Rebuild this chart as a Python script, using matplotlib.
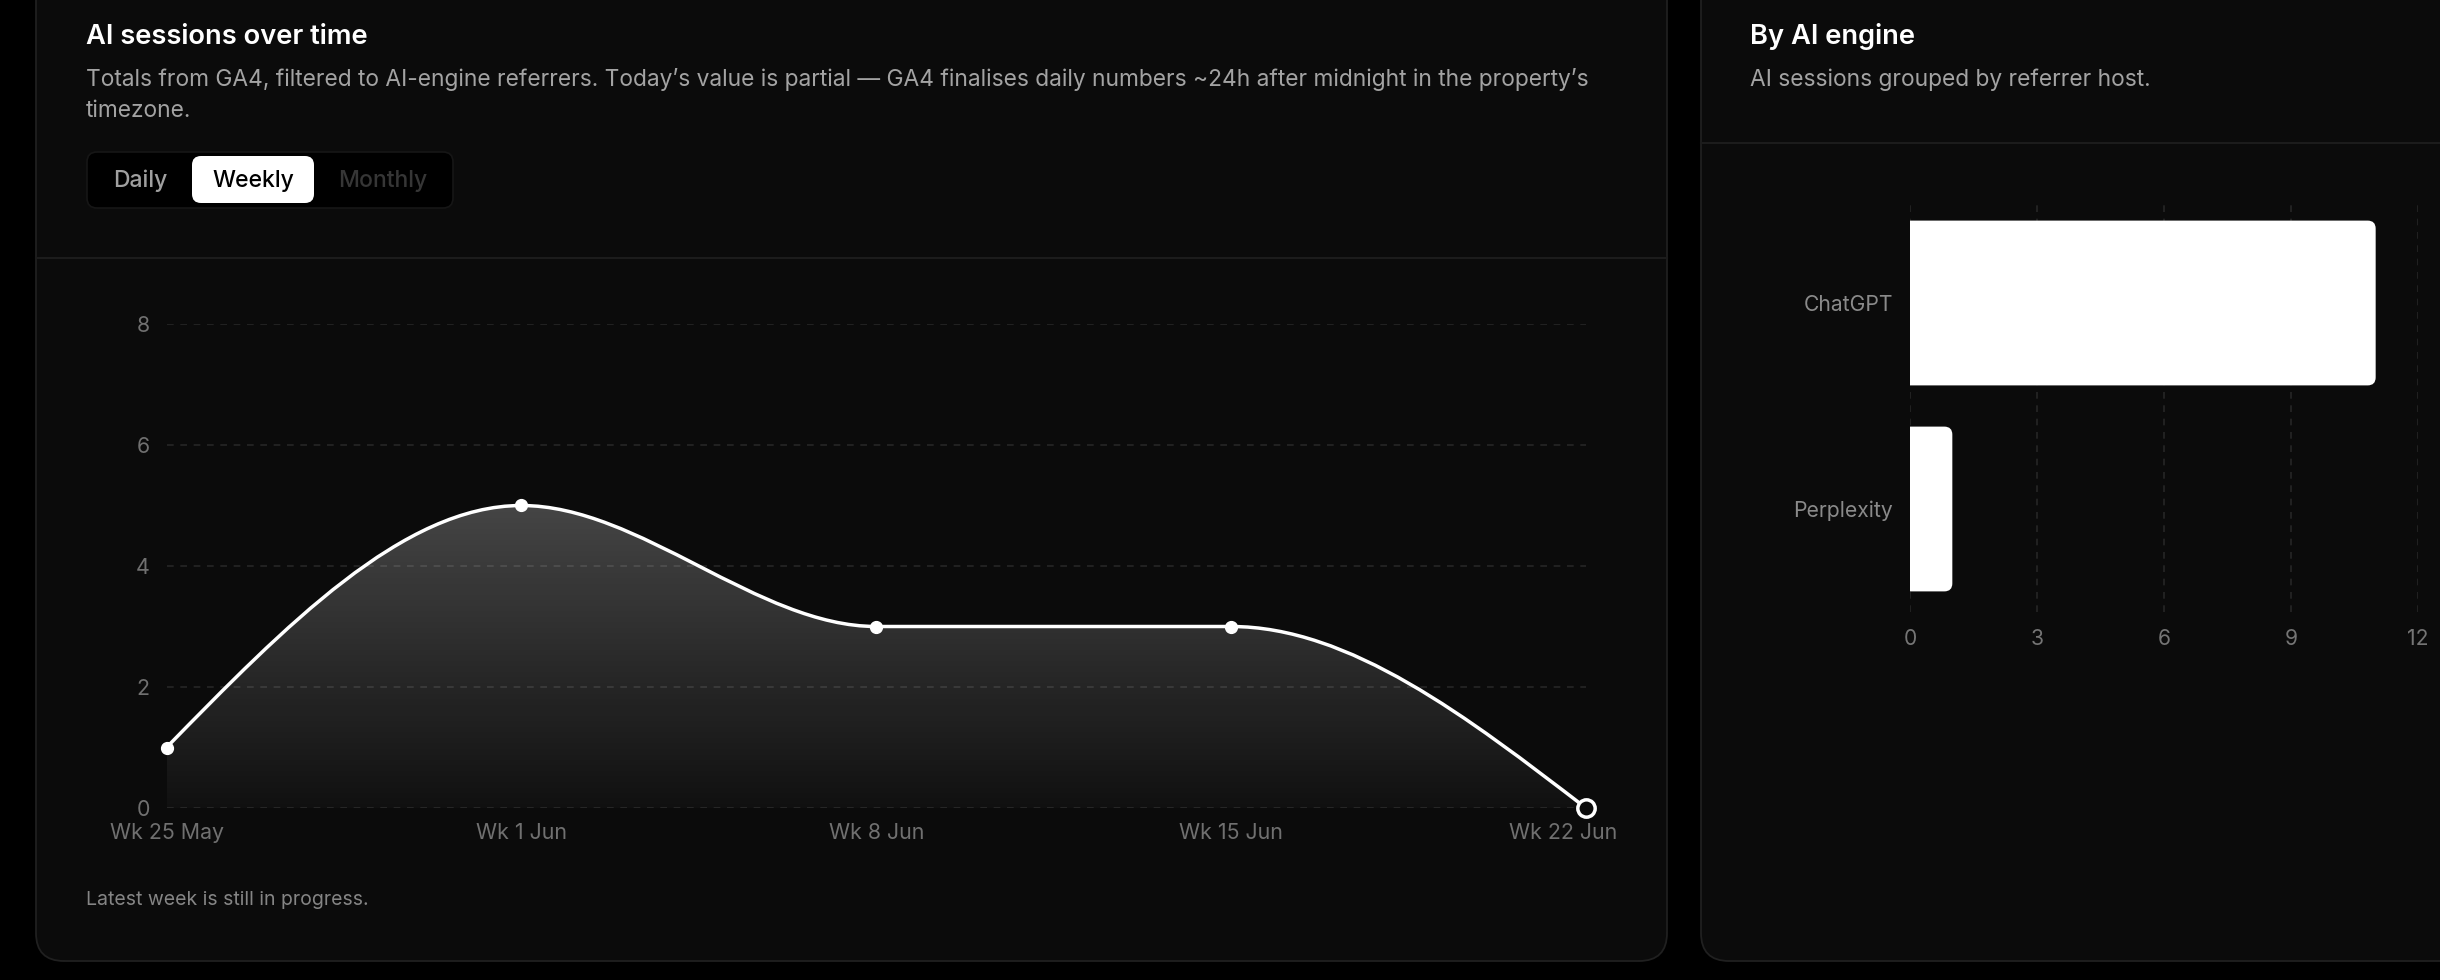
import numpy as np
import matplotlib
matplotlib.use("Agg")
import matplotlib.pyplot as plt
import matplotlib.transforms as mtransforms
from matplotlib.patches import FancyBboxPatch, PathPatch
from matplotlib.path import Path

plt.rcParams['font.family'] = ['Inter', 'DejaVu Sans']

# data
weeks = ["Wk 25 May", "Wk 1 Jun", "Wk 8 Jun", "Wk 15 Jun", "Wk 22 Jun"]
sessions = [1, 5, 3, 3, 0]
y_ticks = [0, 2, 4, 6, 8]

engines = ["ChatGPT", "Perplexity"]
engine_sessions = [11, 1]
engine_ticks = [0, 3, 6, 9, 12]

W, H = 2440, 980
BG = '#000000'
CARD = '#0b0b0b'
EDGE = '#202020'


def fx(px):
    return px / W


def fy(py):
    return 1 - py / H


def monotone_path(xs, ys):
    # d3 curveMonotoneX style bezier through the points
    xs = np.asarray(xs, float)
    ys = np.asarray(ys, float)
    n = len(xs)
    h = np.diff(xs)
    s = np.diff(ys) / h
    t = np.zeros(n)
    for i in range(1, n - 1):
        p = (s[i - 1] * h[i] + s[i] * h[i - 1]) / (h[i - 1] + h[i])
        t[i] = (np.sign(s[i - 1]) + np.sign(s[i])) * min(abs(s[i - 1]), abs(s[i]), 0.5 * abs(p))
    t[0] = (3 * s[0] - t[1]) / 2
    t[-1] = (3 * s[-1] - t[-2]) / 2
    verts = [(xs[0], ys[0])]
    codes = [Path.MOVETO]
    for i in range(n - 1):
        dx = h[i] / 3
        verts += [(xs[i] + dx, ys[i] + dx * t[i]),
                  (xs[i + 1] - dx, ys[i + 1] - dx * t[i + 1]),
                  (xs[i + 1], ys[i + 1])]
        codes += [Path.CURVE4] * 3
    return verts, codes


fig = plt.figure(figsize=(W / 100, H / 100), dpi=100, facecolor=BG)

# page background, cards and header text in pixel coordinates
bg = fig.add_axes([0, 0, 1, 1])
bg.set_xlim(0, W)
bg.set_ylim(H, 0)
bg.axis('off')
bg.set_facecolor(BG)

bg.add_patch(FancyBboxPatch((36, -80), 1631, 1041, boxstyle="round,pad=0,rounding_size=28",
                            fc=CARD, ec=EDGE, lw=1.3))
bg.add_patch(FancyBboxPatch((1701, -80), 900, 1041, boxstyle="round,pad=0,rounding_size=28",
                            fc=CARD, ec=EDGE, lw=1.3))
bg.plot([36, 1667], [258, 258], color='#1c1c1c', lw=1.5)
bg.plot([1701, 2440], [143, 143], color='#1c1c1c', lw=1.5)

bg.text(86, 44, "AI sessions over time", color='white', fontsize=19.7, fontweight='semibold', va='baseline')
bg.text(86, 86, "Totals from GA4, filtered to AI-engine referrers. Today\u2019s value is partial \u2014 "
        "GA4 finalises daily numbers ~24h after midnight in the property\u2019s",
        color='#a3a3a3', fontsize=16.4, va='baseline')
bg.text(86, 117, "timezone.", color='#a3a3a3', fontsize=16.4, va='baseline')

# period switch
bg.add_patch(FancyBboxPatch((87, 152), 366, 56, boxstyle="round,pad=0,rounding_size=10",
                            fc='#000000', ec='#161616', lw=1.2))
bg.add_patch(FancyBboxPatch((192, 156), 122, 47, boxstyle="round,pad=0,rounding_size=9",
                            fc='white', ec='none'))
bg.text(140, 181, "Daily", color='#a0a0a0', fontsize=16.5, fontweight='medium', ha='center', va='center')
bg.text(253, 181, "Weekly", color='#000000', fontsize=16.5, fontweight='medium', ha='center', va='center')
bg.text(383, 181, "Monthly", color='#363636', fontsize=16.5, fontweight='medium', ha='center', va='center')

bg.text(86, 905, "Latest week is still in progress.", color='#858585', fontsize=14, va='baseline')

bg.text(1750, 44, "By AI engine", color='white', fontsize=19.7, fontweight='semibold', va='baseline')
bg.text(1750, 86, "AI sessions grouped by referrer host.", color='#a3a3a3', fontsize=16.4, va='baseline')

# line chart
ax = fig.add_axes([fx(166.5), fy(808), fx(1586) - fx(166.5), fy(324) - fy(808)])
ax.patch.set_alpha(0)
x = np.arange(len(weeks))
verts, codes = monotone_path(x, sessions)
line_path = Path(verts, codes)

fill_verts = verts + [(x[-1], 0), (x[0], 0), (x[0], sessions[0])]
fill_codes = codes + [Path.LINETO, Path.LINETO, Path.CLOSEPOLY]
fill_patch = PathPatch(Path(fill_verts, fill_codes), fc='none', ec='none')
ax.add_patch(fill_patch)
top = max(sessions)
grad = np.zeros((256, 1, 4))
grad[..., :3] = 1.0
grad[:, 0, 3] = np.linspace(0.025, 0.24, 256)
im = ax.imshow(grad, extent=[x[0], x[-1], 0, top], origin='lower', aspect='auto', zorder=1)
im.set_clip_path(fill_patch)

ax.add_patch(PathPatch(line_path, fc='none', ec='white', lw=2.5, zorder=3, capstyle='round'))
ax.plot(x[:-1], sessions[:-1], 'o', color='white', ms=8.5, zorder=4, clip_on=False)
ax.plot(x[-1], sessions[-1], 'o', mfc=CARD, mec='white', mew=2.5, ms=12.5, zorder=5, clip_on=False)

ax.set_xlim(x[0], x[-1])
ax.set_ylim(0, 8)
ax.set_xticks(x)
ax.set_xticklabels(weeks)
ax.set_yticks(y_ticks)
ax.tick_params(length=0, labelsize=15.4, labelcolor='#707070')
ax.tick_params(axis='y', pad=12)
ax.tick_params(axis='x', pad=11)
ax.yaxis.grid(True, color='#262626', lw=1.2, linestyle=(0, (4, 4)))
ax.set_axisbelow(True)
for sp in ax.spines.values():
    sp.set_visible(False)
# last label is pulled inside the card
last = ax.get_xticklabels()[-1]
last.set_transform(last.get_transform() + mtransforms.ScaledTranslation(-0.23, 0, fig.dpi_scale_trans))

# bar chart
bx = fig.add_axes([fx(1910), fy(612), fx(2418) - fx(1910), fy(200) - fy(612)])
bx.patch.set_alpha(0)
bx.set_xlim(0, 12)
bx.set_ylim(len(engines) - 0.5, -0.5)
r_px = 8
rx = r_px * 12 / 508
asp = (2 / 412) / (12 / 508)
for i, v in enumerate(engine_sessions):
    bx.add_patch(FancyBboxPatch((-1, i - 0.4), v + 1, 0.8,
                                boxstyle=f"round,pad=0,rounding_size={rx}",
                                mutation_aspect=asp, fc='white', ec='none', zorder=3))
bx.set_yticks(range(len(engines)))
bx.set_yticklabels(engines)
bx.set_xticks(engine_ticks)
bx.tick_params(length=0, labelsize=15.2)
bx.tick_params(axis='y', pad=12, labelcolor='#8a8a8a')
bx.tick_params(axis='x', pad=12, labelcolor='#757575')
bx.xaxis.grid(True, color='#262626', lw=1.2, linestyle=(0, (4, 4)))
bx.set_axisbelow(True)
for sp in bx.spines.values():
    sp.set_visible(False)

fig.savefig("out.png", dpi=100, facecolor=BG)
